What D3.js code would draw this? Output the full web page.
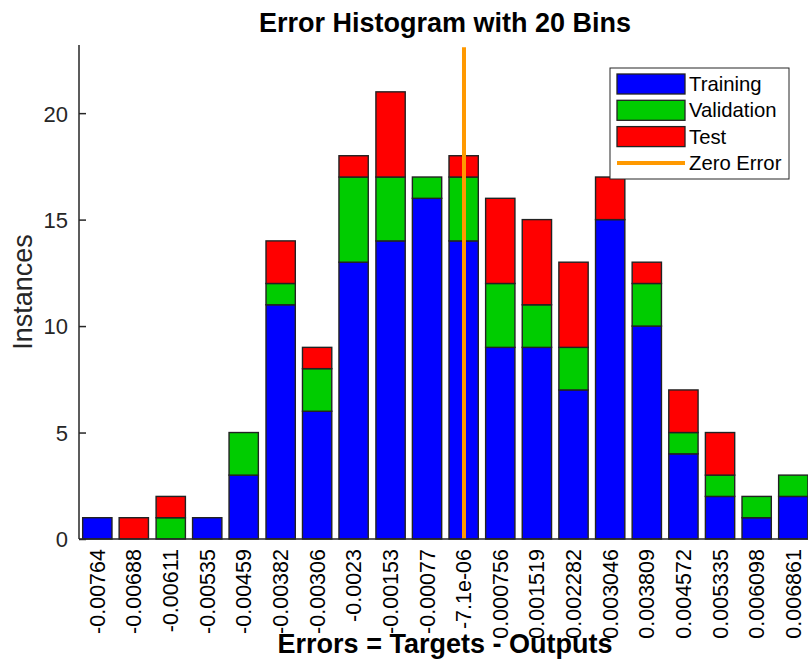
<!DOCTYPE html>
<html><head><meta charset="utf-8">
<script src="https://cdn.jsdelivr.net/npm/d3@7"></script>
<style>body{margin:0;background:#fff;}svg{display:block;font-family:"Liberation Sans",Arial,sans-serif;}</style>
</head><body>
<svg id="c" width="808" height="659"></svg>
<script>
const binLabels = ["-0.00764","-0.00688","-0.00611","-0.00535","-0.00459","-0.00382","-0.00306","-0.0023","-0.00153","-0.00077","-7.1e-06","0.000756","0.001519","0.002282","0.003046","0.003809","0.004572","0.005335","0.006098","0.006861"];
const training   = [1,0,0,1,3,11,6,13,14,16,14,9,9,7,15,10,4,2,1,2];
const validation = [0,0,1,0,2,1,2,4,3,1,3,3,2,2,0,2,1,1,1,1];
const test       = [0,1,1,0,0,2,1,1,4,0,1,4,4,4,2,1,2,2,0,0];
const yTicks = [0,5,10,15,20];
const seriesNames = ["Training","Validation","Test"];
const colors = ["#0000ff","#00cc00","#ff0000"];
const zeroColor = "#ff9900";

(function(){
const svg = d3.select("#c");
const pL = 79, pR = 811.6, pT = 45, pB = 539;
const first = +binLabels[0], last = +binLabels[binLabels.length-1];
const bw = (last - first) / (binLabels.length - 1);
const x = d3.scaleLinear().domain([first - bw/2, last + bw/2]).range([pL, pR]);
const y = d3.scaleLinear().domain([0, 23.2]).range([pB, pT]);

const rows = binLabels.map((l,i)=>({c:+l, Training:training[i], Validation:validation[i], Test:test[i]}));
const stack = d3.stack().keys(seriesNames)(rows);
const barW = (x(bw) - x(0)) * 0.8;

const g = svg.append("g");
stack.forEach((s,k)=>{
  g.selectAll(null).data(s.filter(d=>d[1]-d[0]>0)).enter().append("rect")
    .attr("x", d=>x(d.data.c)-barW/2)
    .attr("width", barW)
    .attr("y", d=>y(d[1]))
    .attr("height", d=>y(d[0])-y(d[1]))
    .attr("fill", colors[k])
    .attr("stroke","#222").attr("stroke-width",1.4);
});

svg.append("line").attr("x1",x(0)).attr("x2",x(0)).attr("y1",y(23.1)).attr("y2",pB)
  .attr("stroke",zeroColor).attr("stroke-width",4);

svg.append("line").attr("x1",pL).attr("x2",pL).attr("y1",pT).attr("y2",pB).attr("stroke","#262626").attr("stroke-width",1.5);
svg.append("line").attr("x1",pL).attr("x2",pR).attr("y1",pB).attr("y2",pB).attr("stroke","#262626").attr("stroke-width",1.5);
const ya = svg.append("g").attr("transform",`translate(${pL},0)`)
  .call(d3.axisRight(y).tickValues(yTicks).tickSize(7).tickFormat(d3.format("d")));
ya.select(".domain").remove();
ya.selectAll(".tick line").attr("stroke","#262626").attr("stroke-width",1.5);
ya.selectAll(".tick text").attr("x",-11).attr("dy","0.36em").attr("text-anchor","end").attr("fill","#262626")
  .style("font-size","22px").style("font-family","Liberation Sans, Arial, sans-serif");

svg.append("g").selectAll("text").data(binLabels).enter().append("text")
  .attr("transform", d=>`translate(${x(+d)+7.5},549) rotate(-90)`)
  .attr("text-anchor","end").attr("fill","#000")
  .style("font-size","21.5px").text(d=>d);

svg.append("text").attr("x",445).attr("y",32).attr("text-anchor","middle")
  .style("font-size","27px").style("font-weight","bold").text("Error Histogram with 20 Bins");
svg.append("text").attr("x",445).attr("y",653).attr("text-anchor","middle")
  .style("font-size","27px").style("font-weight","bold").text("Errors = Targets - Outputs");
svg.append("text").attr("transform","translate(32,292) rotate(-90)").attr("text-anchor","middle")
  .attr("fill","#262626").style("font-size","27px").text("Instances");

const lg = svg.append("g");
lg.append("rect").attr("x",610).attr("y",68).attr("width",179).attr("height",111)
  .attr("fill","#fff").attr("stroke","#262626").attr("stroke-width",1);
const items = seriesNames.map((n,i)=>({n, c:colors[i], t:"rect"})).concat([{n:"Zero Error", c:zeroColor, t:"line"}]);
items.forEach((it,i)=>{
  const cy = 84 + i*26.3;
  if (it.t==="rect") {
    lg.append("rect").attr("x",617).attr("y",cy-10).attr("width",68).attr("height",20)
      .attr("fill",it.c).attr("stroke","#222").attr("stroke-width",1.3);
  } else {
    lg.append("line").attr("x1",617).attr("x2",685).attr("y1",cy).attr("y2",cy)
      .attr("stroke",it.c).attr("stroke-width",4);
  }
  lg.append("text").attr("x",689).attr("y",cy+7).style("font-size","20.3px").text(it.n);
});
})();
</script>
</body></html>
